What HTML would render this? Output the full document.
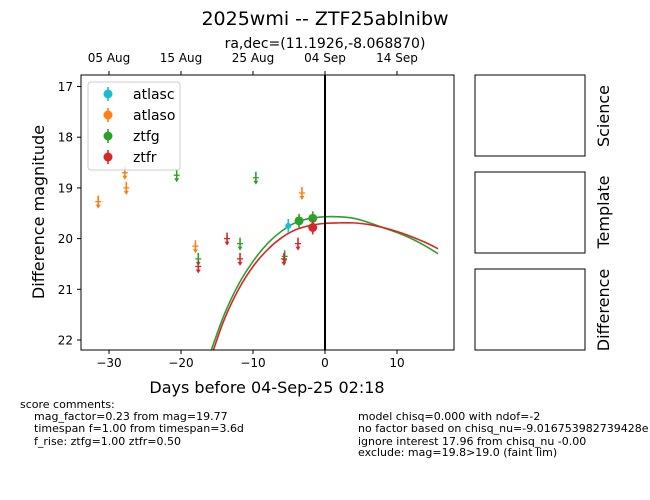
<!DOCTYPE html>
<html><head><meta charset="utf-8"><style>
body{margin:0;background:#fff;}
svg{display:block;font-family:"DejaVu Sans","Liberation Sans",sans-serif;}
</style></head><body>
<svg id="chart" width="650" height="500" viewBox="0 0 650 500">
<text x="325" y="25" font-size="19" text-anchor="middle">2025wmi -- ZTF25ablnibw</text>
<text x="325" y="48" font-size="14" text-anchor="middle">ra,dec=(11.1926,-8.068870)</text>
<g id="axes"></g>
<rect x="475" y="75" width="110" height="81" fill="none" stroke="#000"/>
<rect x="475" y="172" width="110" height="81" fill="none" stroke="#000"/>
<rect x="475" y="269" width="110" height="81" fill="none" stroke="#000"/>
<text transform="translate(609,116) rotate(-90)" font-size="16" text-anchor="middle">Science</text>
<text transform="translate(609,212) rotate(-90)" font-size="16" text-anchor="middle">Template</text>
<text transform="translate(609,310) rotate(-90)" font-size="16" text-anchor="middle">Difference</text>
<g font-size="11">
<text x="20" y="408">score comments:</text>
<text x="34" y="420">mag_factor=0.23 from mag=19.77</text>
<text x="34" y="432">timespan f=1.00 from timespan=3.6d</text>
<text x="34" y="445">f_rise: ztfg=1.00 ztfr=0.50</text>
</g>
<g font-size="11">
<text x="358" y="420">model chisq=0.000 with ndof=-2</text>
<text x="358" y="432">no factor based on chisq_nu=-9.016753982739428e</text>
<text x="358" y="445">ignore interest 17.96 from chisq_nu -0.00</text>
<text x="358" y="456">exclude: mag=19.8&gt;19.0 (faint lim)</text>
</g>
</svg>
<script>
const xTicks=[-30,-20,-10,0,10];
const yTicks=[17,18,19,20,21,22];
const topTickLabels=["05 Aug","15 Aug","25 Aug","04 Sep","14 Sep"];
const topTickDays=[-30,-20,-10,0,10];
const atlasoLimDays=[-31.5,-27.8,-27.6,-18.0,-3.2];
const atlasoLimMags=[19.27,18.7,19.0,20.15,19.1];
const ztfgLimDays=[-20.6,-9.6,-17.6,-11.8,-5.6];
const ztfgLimMags=[18.75,18.8,20.4,20.1,20.35];
const ztfrLimDays=[-17.6,-13.6,-11.8,-5.7,-3.75];
const ztfrLimMags=[20.55,20.0,20.4,20.4,20.1];
const atlascDays=[-5.1];
const atlascMags=[19.75];
const ztfgDays=[-3.6,-1.7];
const ztfgMags=[19.65,19.6];
const ztfrDays=[-1.7];
const ztfrMags=[19.78];
const gModelDays=[-15.8,-14,-12,-10,-8,-6,-4,-2,0,2,4,6,8,10,12,14,15.7];
const gModelMags=[22.2,21.5,20.9,20.45,20.1,19.85,19.68,19.6,19.57,19.57,19.6,19.68,19.78,19.88,20.0,20.15,20.3];
const rModelDays=[-15.5,-14,-12,-10,-8,-6,-4,-2,0,2,4,6,8,10,12,14,15.7];
const rModelMags=[22.2,21.6,21.0,20.55,20.22,19.98,19.82,19.74,19.7,19.69,19.69,19.72,19.78,19.86,19.96,20.08,20.2];

const L=81,R=454,T=75,B=350;
const xs=d=>325+d*7.2;
const ys=m=>86.5+(m-17)*50.7;
const NS="http://www.w3.org/2000/svg";
const g=document.getElementById('axes');
function mk(tag,attrs,parent){const e=document.createElementNS(NS,tag);for(const k in attrs)e.setAttribute(k,attrs[k]);(parent||g).appendChild(e);return e;}
const C={c:"#17becf",o:"#ff7f0e",g:"#2ca02c",r:"#d62728"};

const clip=mk('clipPath',{id:'pc'});mk('rect',{x:L,y:T,width:R-L,height:B-T},clip);

xTicks.forEach(d=>{
  const x=xs(d);
  const t=mk('line',{x1:x,x2:x,y1:B,y2:B+4,stroke:'#000'});
  
  
  const l=mk('text',{x:x,y:B+17,'font-size':12,'text-anchor':'middle'});
  l.textContent=(d<0?'\u2212':'')+Math.abs(d);
  
  
});
topTickDays.forEach((d,i)=>{
  const x=xs(d);
  mk('line',{x1:x,x2:x,y1:T,y2:T-4,stroke:'#000'});
  const l=mk('text',{x:x,y:T-13,'font-size':12,'text-anchor':'middle'});
  l.textContent=topTickLabels[i];
  
  
});
yTicks.forEach(m=>{
  const y=ys(m);
  mk('line',{x1:L,x2:L-4,y1:y,y2:y,stroke:'#000'});
  const l=mk('text',{x:L-8,y:y+4.5,'font-size':12,'text-anchor':'end'});
  l.textContent=m;
  
  
});
const xt=mk('text',{x:267,y:393,'font-size':16,'text-anchor':'middle'});
xt.textContent='Days before 04-Sep-25 02:18';


const yt=mk('text',{transform:'translate(44,212) rotate(-90)','font-size':16,'text-anchor':'middle'});
yt.textContent='Difference magnitude';



const pg=mk('g',{'clip-path':'url(#pc)'});
function smoothPath(pts){
  let d='M'+pts[0][0]+','+pts[0][1];
  for(let i=0;i<pts.length-1;i++){
    const p0=pts[Math.max(0,i-1)],p1=pts[i],p2=pts[i+1],p3=pts[Math.min(pts.length-1,i+2)];
    const c1=[p1[0]+(p2[0]-p0[0])/6,p1[1]+(p2[1]-p0[1])/6];
    const c2=[p2[0]-(p3[0]-p1[0])/6,p2[1]-(p3[1]-p1[1])/6];
    d+=` C${c1[0]},${c1[1]} ${c2[0]},${c2[1]} ${p2[0]},${p2[1]}`;
  }
  return d;
}
function model(days,mags,col,name){
  const pts=days.map((d,i)=>[xs(d),ys(mags[i])]);
  const p=mk('path',{d:smoothPath(pts),fill:'none',stroke:col,'stroke-width':1.6},pg);
  
  
}
model(gModelDays,gModelMags,C.g,'ztfg-model-curve');
model(rModelDays,rModelMags,C.r,'ztfr-model-curve');
const vl=mk('line',{x1:xs(0),x2:xs(0),y1:T,y2:B,stroke:'#000','stroke-width':2},pg);



function lims(days,mags,col,name){
  days.forEach((d,i)=>{
    const x=xs(d),y=ys(mags[i]);
    const e=mk('g',{},pg);
    
    
    mk('line',{x1:x,x2:x,y1:y-6,y2:y+4,stroke:col,'stroke-width':1.6},e);
    mk('polygon',{points:`${x-2.5},${y+3} ${x+2.5},${y+3} ${x},${y+7}`,fill:col},e);
    mk('line',{x1:x-3,x2:x+3,y1:y,y2:y,stroke:col,'stroke-width':1.3},e);
  });
}
lims(atlasoLimDays,atlasoLimMags,C.o,'atlaso-upper-limit');
lims(ztfgLimDays,ztfgLimMags,C.g,'ztfg-upper-limit');
lims(ztfrLimDays,ztfrLimMags,C.r,'ztfr-upper-limit');
function dets(days,mags,col,rad,name){
  days.forEach((d,i)=>{
    const x=xs(d),y=ys(mags[i]);
    const e=mk('g',{},pg);
    
    
    mk('line',{x1:x,x2:x,y1:y-7,y2:y+7,stroke:col,'stroke-width':1.6},e);
    mk('circle',{cx:x,cy:y,r:rad,fill:col},e);
  });
}
dets(atlascDays,atlascMags,C.c,3,'atlasc-point');
dets(ztfgDays,ztfgMags,C.g,4.5,'ztfg-point');
dets(ztfrDays,ztfrMags,C.r,4.5,'ztfr-point');

const lg=mk('g',{});


mk('rect',{x:88,y:82,width:92,height:88,rx:3,fill:'#fff','fill-opacity':0.8,stroke:'#ccc'},lg);
[['atlasc',C.c],['atlaso',C.o],['ztfg',C.g],['ztfr',C.r]].forEach((s,i)=>{
  const y=94+i*21;
  const e=mk('g',{},lg);
  
  
  mk('line',{x1:108,x2:108,y1:y-7,y2:y+7,stroke:s[1],'stroke-width':1.6},e);
  mk('circle',{cx:108,cy:y,r:4.5,fill:s[1]},e);
  const t=mk('text',{x:133,y:y+5,'font-size':14},e);
  t.textContent=s[0];
});
mk('rect',{x:L,y:T,width:R-L,height:B-T,fill:'none',stroke:'#000'});
</script>
</body></html>
